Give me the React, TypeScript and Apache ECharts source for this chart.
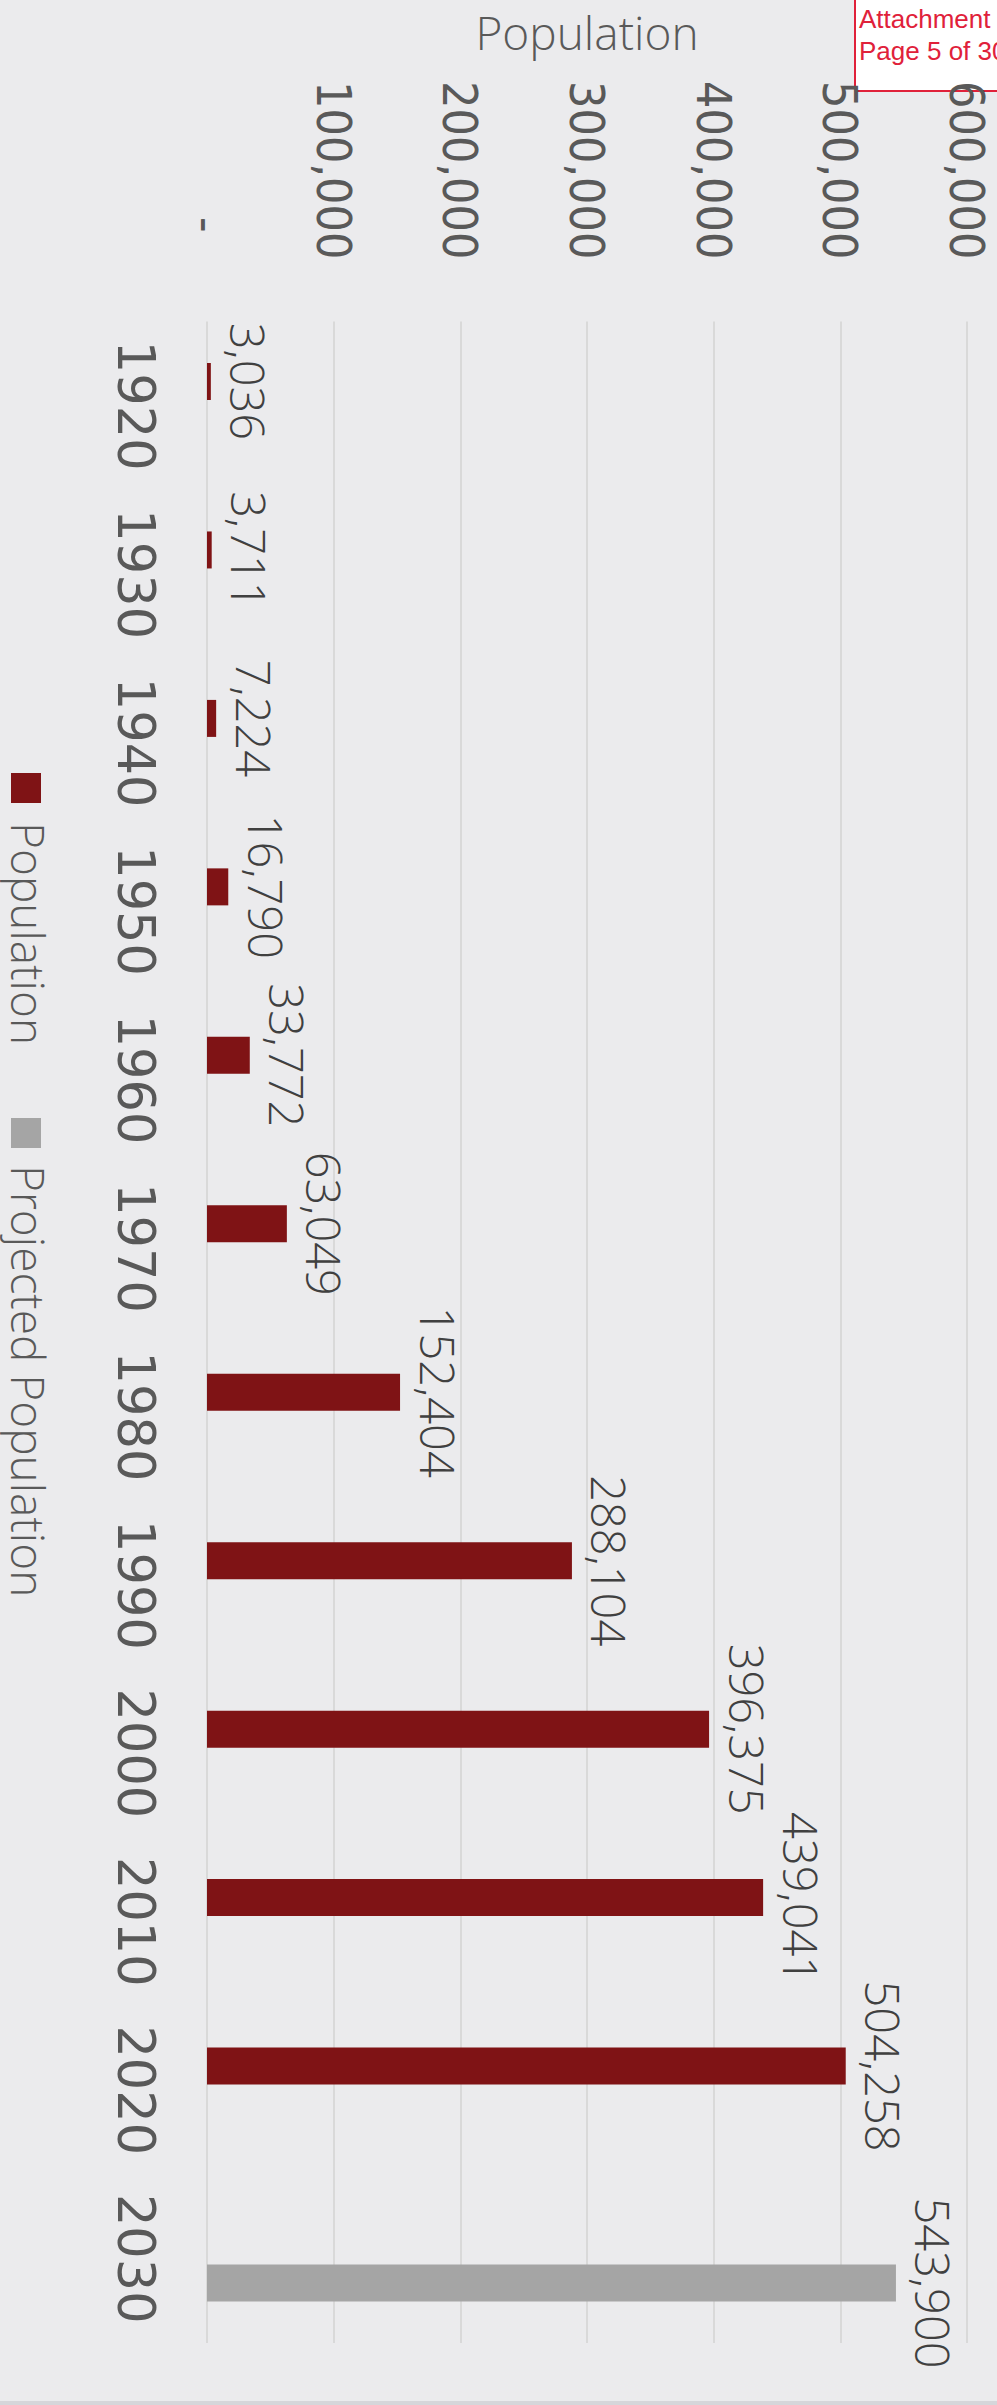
import React, { useEffect, useRef } from "react";
import * as echarts from "echarts";

const years = ["1920", "1930", "1940", "1950", "1960", "1970", "1980", "1990", "2000", "2010", "2020", "2030"];
const population = [3036, 3711, 7224, 16790, 33772, 63049, 152404, 288104, 396375, 439041, 504258, null];
const projected = [null, null, null, null, null, null, null, null, null, null, null, 543900];
const seriesNames = ["Population", "Projected Population"];
const seriesColors = ["#7f1315", "#a5a5a5"];
const axisTitle = "Population";
const valueMin = 0;
const valueMax = 600000;
const valueStep = 100000;
const stampLines = ["Attachment", "Page 5 of 30"];

const fmt = (v: number) => Number(v).toLocaleString("en-US");

export default function App() {
  const ref = useRef<HTMLDivElement>(null);
  useEffect(() => {
    if (!ref.current) return;
    const chart = echarts.init(ref.current, null, { renderer: "svg" });
    const labelCfg = {
      show: true,
      position: "right",
      rotate: -90,
      align: "center",
      verticalAlign: "bottom",
      distance: 14,
      fontSize: 47,
      fontWeight: 300,
      fontFamily: "'Open Sans', sans-serif",
      color: "#404040",
      formatter: (p: any) => fmt(p.value),
    };
    chart.setOption({
      animation: false,
      backgroundColor: "#ebebed",
      grid: { left: 207, right: 30, top: 321.5, bottom: 62 },
      xAxis: {
        type: "value",
        position: "top",
        min: valueMin,
        max: valueMax,
        interval: valueStep,
        name: axisTitle,
        nameLocation: "middle",
        nameGap: 267,
        nameTextStyle: { fontSize: 46, fontWeight: 300, fontFamily: "'Open Sans', sans-serif", color: "#595959" },
        axisLine: { show: false },
        axisTick: { show: false },
        splitLine: { show: true, lineStyle: { color: "#d9d9d9", width: 2 } },
        axisLabel: {
          rotate: 90,
          margin: 62,
          fontSize: 48,
          fontFamily: "'DejaVu Sans Condensed', 'DejaVu Sans', sans-serif",
          color: "#595959",
          formatter: (v: number) => (v === 0 ? "{z|-}" : fmt(v)),
          rich: {
            z: {
              fontSize: 48,
              fontFamily: "'DejaVu Sans Condensed', 'DejaVu Sans', sans-serif",
              color: "#595959",
              padding: [0, 27, 0, 0],
            },
          },
        },
      },
      yAxis: {
        type: "category",
        data: years,
        inverse: true,
        axisLine: { show: false },
        axisTick: { show: false },
        splitLine: { show: false },
        axisLabel: {
          interval: 0,
          rotate: -90,
          margin: 46,
          fontSize: 51,
          fontFamily: "'DejaVu Sans', sans-serif",
          color: "#595959",
        },
      },
      series: [
        {
          name: seriesNames[0],
          type: "bar",
          data: population,
          barWidth: 37,
          barGap: "31%",
          itemStyle: { color: seriesColors[0] },
          label: labelCfg,
        },
        {
          name: seriesNames[1],
          type: "bar",
          data: projected,
          barWidth: 37,
          barGap: "31%",
          itemStyle: { color: seriesColors[1] },
          label: labelCfg,
        },
      ],
      graphic: [
        {
          type: "rect",
          shape: { x: 855, y: -3, width: 160, height: 94 },
          style: { fill: "#ffffff", stroke: "#e0213a", lineWidth: 2 },
        },
        {
          type: "text",
          style: {
            text: stampLines[0],
            x: 859,
            y: 19,
            fontSize: 26,
            fontFamily: "'Liberation Sans', Arial, sans-serif",
            fill: "#e0213a",
            align: "left",
            verticalAlign: "middle",
            textAlign: "left",
            textVerticalAlign: "middle",
          },
        },
        {
          type: "text",
          style: {
            text: stampLines[1],
            x: 859,
            y: 51,
            fontSize: 26,
            fontFamily: "'Liberation Sans', Arial, sans-serif",
            fill: "#e0213a",
            align: "left",
            verticalAlign: "middle",
            textAlign: "left",
            textVerticalAlign: "middle",
          },
        },
        {
          type: "rect",
          shape: { x: 0, y: 2401, width: 997, height: 4 },
          style: { fill: "#d6d6da" },
        },
        {
          type: "group",
          x: 46,
          y: 773,
          rotation: -Math.PI / 2,
          children: [
            { type: "rect", shape: { x: 0, y: 5, width: 30, height: 30 }, style: { fill: seriesColors[0] } },
            {
              type: "text",
              style: {
                text: seriesNames[0],
                x: 49,
                y: 17,
                fontSize: 46,
                fontWeight: 300,
                fontFamily: "'Open Sans', sans-serif",
                fill: "#595959",
                align: "left",
                verticalAlign: "middle",
                textAlign: "left",
                textVerticalAlign: "middle",
              },
            },
            { type: "rect", shape: { x: 345, y: 5, width: 30, height: 30 }, style: { fill: seriesColors[1] } },
            {
              type: "text",
              style: {
                text: seriesNames[1],
                x: 392,
                y: 17,
                fontSize: 46,
                fontWeight: 300,
                fontFamily: "'Open Sans', sans-serif",
                fill: "#595959",
                align: "left",
                verticalAlign: "middle",
                textAlign: "left",
                textVerticalAlign: "middle",
              },
            },
          ],
        },
      ],
    });
    return () => chart.dispose();
  }, []);
  return (
    <div
      ref={ref}
      style={{ position: "absolute", left: 0, top: 0, width: 997, height: 2405 }}
    />
  );
}
